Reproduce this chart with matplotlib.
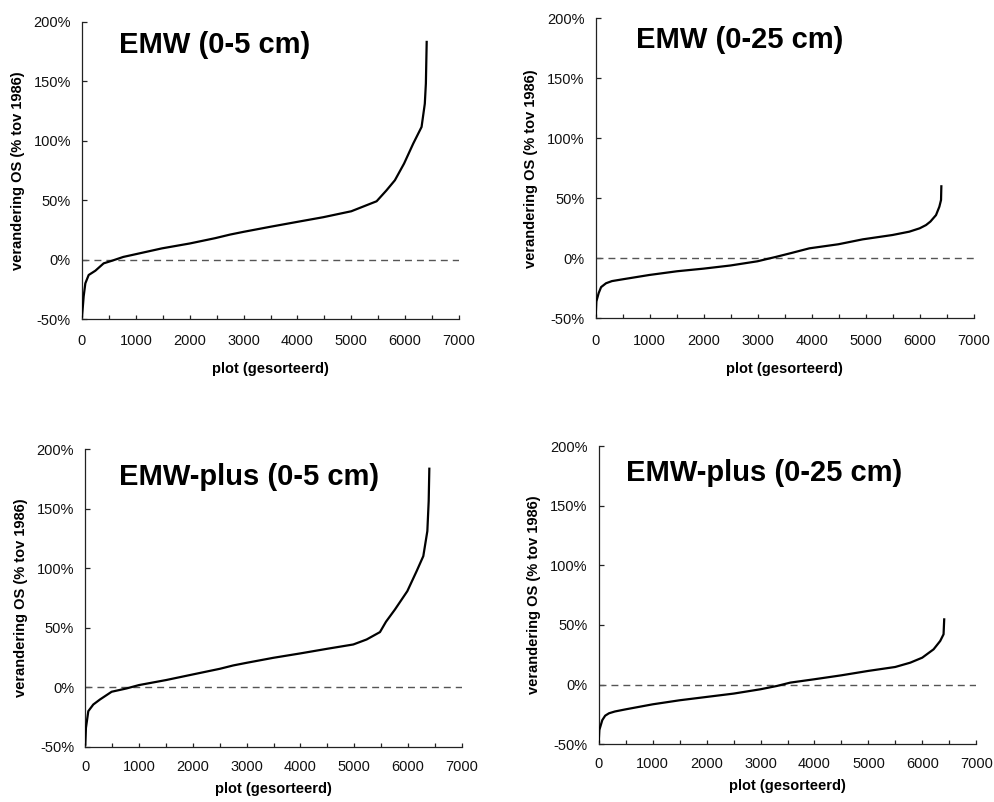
import matplotlib
matplotlib.use("Agg")
import matplotlib.pyplot as plt
from matplotlib.ticker import MultipleLocator, FixedLocator

plt.rcParams['font.family'] = ['Liberation Sans', 'DejaVu Sans']

# ---- data ----
titles = ["EMW (0-5 cm)", "EMW (0-25 cm)", "EMW-plus (0-5 cm)", "EMW-plus (0-25 cm)"]

emw5_x = [0, 15, 31, 62, 124, 248, 402, 557, 767, 928, 1485, 2000, 2475, 2750, 3000, 3490, 4000,
          4480, 5000, 5285, 5470, 5650, 5810, 5980, 6150, 6305, 6365, 6385, 6400]
emw5_y = [-48, -40, -31, -20, -13, -9.4, -3.2, -1, 2.2, 3.8, 9.4, 13.5, 18, 21, 23.3, 27.5, 31.7,
          35.6, 40.6, 45.7, 49, 58, 66.7, 80.7, 97.5, 111.5, 131, 148, 183]

emw25_x = [0, 12, 55, 100, 191, 300, 500, 993, 1506, 2000, 2494, 2994, 3340, 3605, 3956, 4494, 4945,
           5494, 5808, 6000, 6117, 6198, 6302, 6364, 6395, 6401]
emw25_y = [-48, -36, -29, -24, -20.8, -19, -17.5, -13.9, -10.8, -8.6, -6, -2.5, 1.2, 4.2, 8.3, 11.7, 15.8,
           19.4, 22.2, 25, 27.7, 30.6, 36, 43, 48.6, 60]

plus5_x = [0, 12, 56, 149, 273, 490, 769, 998, 1500, 1996, 2505, 2752, 3000, 3497, 3999,
           4501, 4984, 5232, 5480, 5592, 5759, 5989, 6162, 6286, 6361, 6386, 6398]
plus5_y = [-48, -33.9, -19.9, -14.3, -10.1, -3.6, -0.8, 2, 6.2, 10.9, 15.7, 18.5, 20.7, 24.9, 28.6,
           32.5, 36.1, 40.3, 46.5, 55.2, 65.5, 80.9, 97.7, 110.3, 131.3, 156.5, 183.7]

plus25_x = [0, 12, 67, 120, 191, 300, 500, 1000, 1501, 2001, 2502, 2996, 3305, 3552, 3996, 4497, 4997,
            5497, 5775, 5998, 6208, 6331, 6393, 6405]
plus25_y = [-48, -38, -29.7, -26, -24, -22.5, -20.7, -16.5, -13.1, -10.3, -7.5, -3.9, -1.1, 1.7, 4.5, 7.8, 11.5,
            14.8, 18.4, 22.6, 29.6, 36.6, 42.2, 54.7]

series = [(emw5_x, emw5_y), (emw25_x, emw25_y), (plus5_x, plus5_y), (plus25_x, plus25_y)]

y_ticks = [-50, 0, 50, 100, 150, 200]
y_ticklabels = ["-50%", "0%", "50%", "100%", "150%", "200%"]
x_ticks = [0, 1000, 2000, 3000, 4000, 5000, 6000, 7000]
x_ticklabels = ["0", "1000", "2000", "3000", "4000", "5000", "6000", "7000"]
xlabel = "plot (gesorteerd)"
ylabel = "verandering OS (% tov 1986)"

# ---- layout ----
W, H = 994, 802
fig = plt.figure(figsize=(W / 100, H / 100), dpi=100)

# pixel boxes: left, right, top, bottom
boxes = [(82, 459, 21.7, 319), (595.7, 973.7, 18.3, 318.3),
         (85.3, 461.7, 449.3, 747), (598.7, 976.3, 446, 744.3)]
title_pos = [(0.098, 0.922), (0.107, 0.928), (0.0895, 0.907), (0.073, 0.911)]
xlabel_y = [-0.145, -0.145, -0.118, -0.118]

for i, ((l, r, t, b), (xs, ys)) in enumerate(zip(boxes, series)):
    ax = fig.add_axes([l / W, (H - b) / H, (r - l) / W, (b - t) / H])
    ax.plot(xs, ys, color='black', lw=1.6, solid_joinstyle='round', zorder=3)
    ax.axhline(0, color='#555555', lw=1.0, linestyle=(0, (5, 3.6)), zorder=2)
    ax.set_xlim(0, 7000)
    ax.set_ylim(-50, 200)
    ax.xaxis.set_major_locator(FixedLocator(x_ticks))
    ax.set_xticklabels(x_ticklabels)
    ax.xaxis.set_minor_locator(MultipleLocator(500))
    ax.yaxis.set_major_locator(FixedLocator(y_ticks))
    ax.set_yticklabels(y_ticklabels)
    for s in ['top', 'right']:
        ax.spines[s].set_visible(False)
    for s in ['left', 'bottom']:
        ax.spines[s].set_color('#222222')
        ax.spines[s].set_linewidth(0.9)
    ax.tick_params(axis='x', which='both', direction='in', length=3.2, width=0.9,
                   color='#222222', labelsize=10.5, pad=11 if i < 2 else 9.5,
                   labelcolor='#111111')
    ax.tick_params(axis='y', which='major', direction='in', length=3.6, width=0.9,
                   color='#222222', labelsize=10.5, pad=8, labelcolor='#111111')
    ax.set_xlabel(xlabel, fontsize=10.5, fontweight='bold')
    ax.set_ylabel(ylabel, fontsize=10.5, fontweight='bold')
    ax.xaxis.set_label_coords(0.5, xlabel_y[i])
    ax.yaxis.set_label_coords(-0.152, 0.5)
    ax.text(title_pos[i][0], title_pos[i][1], titles[i], transform=ax.transAxes,
            ha='left', va='center', fontsize=21, fontweight='bold')

fig.savefig("out.png", dpi=100)
